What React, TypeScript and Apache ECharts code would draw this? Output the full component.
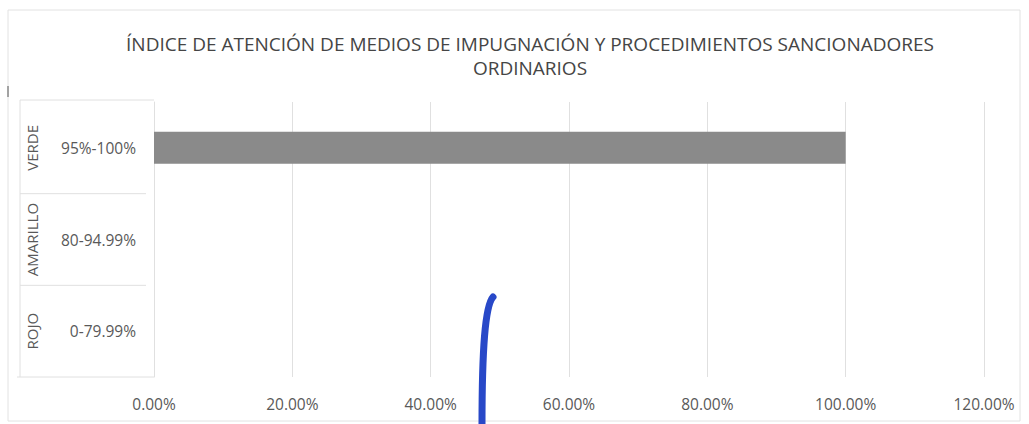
import React, { useEffect, useRef } from "react";
import * as echarts from "echarts";

const title = "ÍNDICE DE ATENCIÓN DE MEDIOS DE IMPUGNACIÓN Y PROCEDIMIENTOS SANCIONADORES\nORDINARIOS";
const categories = ["0-79.99%", "80-94.99%", "95%-100%"];
const groups = ["ROJO", "AMARILLO", "VERDE"];
const values = [0, 0, 1.0];
const xMin = 0;
const xMax = 1.2;
const xInterval = 0.2;

const GRID_LEFT = 154;
const GRID_RIGHT = 45;
const GRID_TOP = 102;
const GRID_BOTTOM = 47;
const W = 1029;
const H = 424;
const FONT = "'Open Sans', 'Noto Sans', sans-serif";

export default function App() {
  const ref = useRef<HTMLDivElement>(null);
  useEffect(() => {
    if (!ref.current) return;
    const chart = echarts.init(ref.current, null, { renderer: "svg" });
    const plotH = H - GRID_TOP - GRID_BOTTOM;
    const band = plotH / categories.length;
    const bottomY = H - GRID_BOTTOM;
    const graphics: any[] = [];
    graphics.push({
      type: "rect",
      shape: { x: 8, y: 10, width: 1012, height: 411 },
      style: { fill: "none", stroke: "#e2e2e2", lineWidth: 1 },
      silent: true,
    });
    graphics.push({
      type: "line",
      shape: { x1: 20, y1: GRID_TOP - 2, x2: GRID_LEFT, y2: GRID_TOP - 2 },
      style: { stroke: "#e0e0e0", lineWidth: 1 },
    });
    graphics.push({
      type: "line",
      shape: { x1: 20, y1: GRID_TOP - 2, x2: 20, y2: bottomY },
      style: { stroke: "#e0e0e0", lineWidth: 1 },
    });
    graphics.push({
      type: "line",
      shape: { x1: 17, y1: bottomY, x2: GRID_LEFT, y2: bottomY },
      style: { stroke: "#e0e0e0", lineWidth: 1 },
    });
    for (let i = 1; i < categories.length; i++) {
      const y = bottomY - band * i;
      graphics.push({
        type: "line",
        shape: { x1: 20, y1: y, x2: 146, y2: y },
        style: { stroke: "#e0e0e0", lineWidth: 1 },
      });
    }
    groups.forEach((g, i) => {
      const cy = bottomY - band * (i + 0.5);
      graphics.push({
        type: "text",
        x: 32,
        y: cy,
        rotation: Math.PI / 2,
        style: {
          text: g,
          fill: "#595959",
          font: `15px ${FONT}`,
          align: "center",
          verticalAlign: "middle",
        },
      });
    });
    graphics.push({
      type: "line",
      shape: { x1: 8, y1: 86, x2: 8, y2: 97 },
      style: { stroke: "#888", lineWidth: 1.5 },
    });
    graphics.push({
      type: "bezierCurve",
      shape: { x1: 493, y1: 297, cpx1: 485, cpy1: 306, cpx2: 482, cpy2: 350, x2: 482, y2: 426 },
      style: { stroke: "#2848c8", lineWidth: 7, lineCap: "round", fill: "none" },
    });

    chart.setOption({
      animation: false,
      backgroundColor: "#ffffff",
      title: {
        text: title,
        left: 525,
        top: 27,
        textAlign: "center",
        textStyle: {
          fontFamily: FONT,
          fontSize: 19,
          fontWeight: "normal",
          color: "#454545",
          lineHeight: 24,
        },
      },
      grid: {
        left: GRID_LEFT,
        right: GRID_RIGHT,
        top: GRID_TOP,
        bottom: GRID_BOTTOM,
        containLabel: false,
      },
      xAxis: {
        type: "value",
        min: xMin,
        max: xMax,
        interval: xInterval,
        axisLine: { show: false },
        axisTick: { show: false },
        splitLine: { lineStyle: { color: "#e0e0e0", width: 1 } },
        axisLabel: {
          formatter: (v: number) => (v * 100).toFixed(2) + "%",
          color: "#595959",
          fontFamily: FONT,
          fontSize: 15.5,
          margin: 19,
        },
      },
      yAxis: {
        type: "category",
        data: categories,
        axisLine: { show: true, lineStyle: { color: "#e0e0e0" } },
        axisTick: { show: false },
        splitLine: { show: false },
        axisLabel: {
          color: "#595959",
          fontFamily: FONT,
          fontSize: 15.5,
          margin: 18,
        },
      },
      series: [
        {
          type: "bar",
          data: values,
          barWidth: 32,
          itemStyle: { color: "#8a8a8a" },
          silent: true,
        },
      ],
      graphic: graphics,
    });
    return () => chart.dispose();
  }, []);
  return <div ref={ref} style={{ width: W, height: H, position: "absolute", left: 0, top: 0 }} />;
}
